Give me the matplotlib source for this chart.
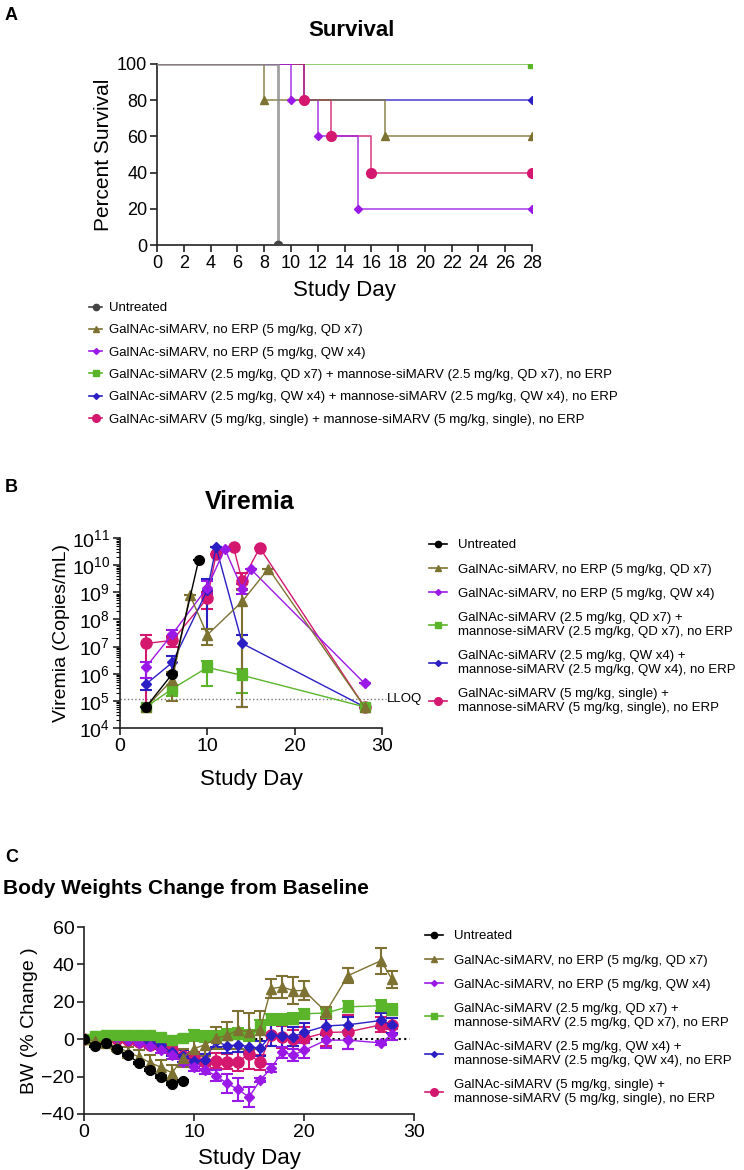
import numpy as np
import matplotlib
matplotlib.use('Agg')
from matplotlib import pyplot as plt
from matplotlib.lines import Line2D
from matplotlib.ticker import LogLocator, NullFormatter

plt.rcParams['font.family'] = ['Liberation Sans', 'DejaVu Sans']

# ---- groups ----
groups = ['Untreated',
          'GalNAc-siMARV, no ERP (5 mg/kg, QD x7)',
          'GalNAc-siMARV, no ERP (5 mg/kg, QW x4)',
          'GalNAc-siMARV (2.5 mg/kg, QD x7) + mannose-siMARV (2.5 mg/kg, QD x7), no ERP',
          'GalNAc-siMARV (2.5 mg/kg, QW x4) + mannose-siMARV (2.5 mg/kg, QW x4), no ERP',
          'GalNAc-siMARV (5 mg/kg, single) + mannose-siMARV (5 mg/kg, single), no ERP']
groups_wrapped = [g.replace('+ ', '+\n') for g in groups]
colors = ['#000000', '#7d7232', '#9b19e6', '#5bb52b', '#2b1fc4', '#d4186f']
markers = ['o', '^', 'D', 's', 'D', 'o']
msizes = [6, 6, 4.5, 6, 4.5, 7]

# ---- A: survival ----
surv_days = [[0, 9], [0, 8, 17, 28], [0, 10, 12, 15, 28], [0, 28], [0, 11, 28], [0, 11, 13, 16, 28]]
surv_pct = [[100, 0], [100, 80, 60, 60], [100, 80, 60, 20, 20], [100, 100], [100, 80, 80],
            [100, 80, 60, 40, 40]]

# ---- B: viremia (copies/mL) ----
vir_days = [[3, 6, 9], [3, 6, 8, 10, 14, 17, 28], [3, 6, 10, 12, 14, 15, 28],
            [3, 6, 10, 14, 28], [3, 6, 10, 11, 14, 28], [3, 6, 10, 11, 13, 14, 16, 28]]
vir_vals = [[6e4, 1e6, 1.5e10],
            [6e4, 6e5, 8e8, 2.7e7, 4.6e8, 7.5e9, 6e4],
            [1.8e6, 2.9e7, 1.5e9, 4e10, 1.3e9, 7e9, 4.4e5],
            [6e4, 2.8e5, 1.7e6, 8.7e5, 6e4],
            [4.2e5, 2.6e6, 1.2e9, 4.6e10, 1.3e7, 6e4],
            [1.3e7, 1.7e7, 6e8, 2.5e10, 4.5e10, 2.6e9, 4.4e10, 6e4]]
vir_lo = [[6e4, 1e6, 1.5e10],
          [6e4, 1e5, 8e8, 1.1e7, 6e4, 7.5e9, 6e4],
          [7e5, 2e7, 9e8, 4e10, 9e8, 7e9, 4.4e5],
          [6e4, 1.5e5, 3.5e5, 2e5, 6e4],
          [2.5e5, 9e5, 4.5e7, 4.6e10, 6e4, 6e4],
          [6e4, 1e7, 2.5e8, 2.5e10, 4.5e10, 1.3e9, 4.4e10, 6e4]]
vir_hi = [[6e4, 1e6, 1.5e10],
          [6e4, 1.2e6, 8e8, 4.5e7, 1.2e9, 7.5e9, 6e4],
          [2.8e6, 4e7, 2.5e9, 4e10, 2e9, 7e9, 4.4e5],
          [6e4, 4e5, 3e6, 1.5e6, 6e4],
          [7e5, 4.5e6, 3e9, 4.6e10, 2.7e7, 6e4],
          [2.6e7, 2.5e7, 1e9, 2.5e10, 4.5e10, 5e9, 4.4e10, 6e4]]
lloq = 1.2e5

# ---- C: body weight change (%) ----
bw_days_untreated = [0, 1, 2, 3, 4, 5, 6, 7, 8, 9]
bw_days = [0, 1, 2, 3, 4, 5, 6, 7, 8, 9, 10, 11, 12, 13, 14, 15, 16, 17, 18, 19, 20, 22, 24, 27, 28]
bw_mean = [
    [0, -3.6, -2.1, -5, -8.6, -12.7, -16.4, -20.4, -24.1, -22.1],
    [0, -1, -2, -4, -7, -9.5, -12.5, -15, -18, -10, -5, -3, 0.5, 2, 5, 4, 5, 27, 28, 26, 26, 14.6, 34, 42, 32],
    [0, 0.7, 0.9, 0.7, -0.5, -2, -3.6, -6, -8.4, -12, -15, -16.4, -19.6, -23.6, -26.8, -31, -22, -15.5, -7,
     -8.4, -6, -0.5, -0.5, -2, 2.7],
    [0, 1.5, 2, 2, 2.5, 2, 2, 1.3, -0.4, 0.5, 2, 1.5, 1.5, 2.5, 3, 2, 7, 10.7, 10.7, 11, 13.6, 14, 17.3,
     17.9, 15.7],
    [0, 0.5, 0.7, 0.5, -0.3, -0.9, -1.8, -3, -7.1, -9, -11.6, -11, -1, -3.6, -3, -4, -4.8, 2.1, 1.8, 1.4,
     3.6, 7.1, 7.7, 10, 7.5],
    [0, 0.5, 0.5, 0, -0.5, -1.5, -3, -3.5, -5.7, -9, -10, -12, -11.6, -12, -12, -8, -12.3, 2.1, 1.3, 0, 0.4,
     3.6, 3.9, 7.7, 7.5]]
bw_sem = [
    [0, 0.5, 0.5, 0.5, 0.5, 0.5, 0.5, 0.5, 0.5, 0.5],
    [0, 1.5, 2, 2.5, 3, 3.5, 4, 4, 4, 5, 7, 6, 6, 7, 10, 10, 10, 5, 6, 7, 5, 2.5, 4, 7, 4.5],
    [0, 0.5, 0.5, 0.5, 1, 1, 1, 1.5, 2, 2, 2, 2, 3, 5, 6, 5.5, 1, 2, 3, 3, 4, 4, 5, 1, 3],
    [0, 1, 1, 1, 1, 1.5, 1.5, 1.5, 1, 2, 3, 3, 3, 3, 3, 3, 3, 3, 3, 3, 2.5, 2, 3, 3, 3],
    [0, 0.5, 0.5, 0.5, 1, 1, 1, 2, 2, 3, 3, 3, 3, 4, 4, 4, 4, 6, 6, 5, 5, 5, 4, 4, 4],
    [0, 0.5, 0.5, 1, 1, 1, 1, 2, 2, 3, 3, 4, 4, 4, 5, 8, 4, 6, 6, 5, 6, 7, 9, 4, 4]]

W, H = 744, 1170
fig = plt.figure(figsize=(W / 100, H / 100), dpi=100)


def box(x0, y0, x1, y1):
    return [x0 / W, 1 - y1 / H, (x1 - x0) / W, (y1 - y0) / H]


def style_axes(ax, size):
    ax.spines['top'].set_visible(False)
    ax.spines['right'].set_visible(False)
    for s in ('left', 'bottom'):
        ax.spines[s].set_linewidth(1.2)
        ax.spines[s].set_color('#222222')
    ax.tick_params(direction='out', length=5, width=1.2, labelsize=size, color='#222222', pad=2)


# ===== Panel A =====
axA = fig.add_axes(box(157, 64, 532, 245))
for i in [3, 4, 5, 2, 1, 0]:
    c = '#8a8a8a' if i == 0 else colors[i]
    mc = '#444444' if i == 0 else colors[i]
    axA.step(surv_days[i], surv_pct[i], where='post', color=c, lw=2 if i == 0 else 1.2,
             alpha=0.8, zorder=2 + (i == 0))
    axA.plot(surv_days[i][1:], surv_pct[i][1:], ls='none', marker=markers[i], color=mc,
             ms=msizes[i], zorder=4)
axA.set_xlim(0, 28)
axA.set_ylim(0, 100)
axA.set_xticks(range(0, 29, 2))
axA.set_yticks(range(0, 101, 20))
style_axes(axA, 13)
axA.set_xlabel('Study Day', fontsize=16, labelpad=6)
axA.set_ylabel('Percent Survival', fontsize=15, labelpad=3)
fig.text(352 / W, 1 - 30 / H, 'Survival', ha='center', va='center', fontsize=16, fontweight='bold')
fig.text(5 / W, 1 - 15 / H, 'A', ha='left', va='center', fontsize=13, fontweight='bold')

handlesA = [Line2D([], [], color='#444444' if i == 0 else colors[i], marker=markers[i],
                   ms=msizes[i] - 1.5, lw=1.2) for i in range(6)]
fig.legend(handlesA, groups, loc='upper left', bbox_to_anchor=(89 / W, 1 - 302 / H),
           frameon=False, fontsize=9.5, handlelength=1.0, handletextpad=0.5, labelspacing=0.76,
           borderpad=0, borderaxespad=0)

# ===== Panel B =====
axB = fig.add_axes(box(120, 538, 382, 728))
for i in [5, 4, 3, 2, 1, 0]:
    v = np.array(vir_vals[i])
    err = [v - np.array(vir_lo[i]), np.array(vir_hi[i]) - v]
    axB.errorbar(vir_days[i], v, yerr=err, color=colors[i], marker=markers[i], ms=msizes[i] + 1,
                 lw=1, elinewidth=1.5, capsize=4, capthick=1.5, zorder=3)
axB.plot([0, 30.5], [lloq, lloq], ls=':', color='#777777', lw=1, clip_on=False, zorder=1)
axB.text(30.6, lloq, 'LLOQ', ha='left', va='center', fontsize=9.5)
axB.set_yscale('log')
axB.set_ylim(1e4, 1e11)
axB.set_xlim(0, 30)
axB.set_xticks([0, 10, 20, 30])
axB.yaxis.set_major_locator(LogLocator(base=10, numticks=20))
axB.yaxis.set_minor_locator(LogLocator(base=10, subs=np.arange(2, 10), numticks=20))
axB.yaxis.set_minor_formatter(NullFormatter())
style_axes(axB, 14)
axB.tick_params(which='minor', length=3, width=0.8)
axB.set_xlabel('Study Day', fontsize=16, labelpad=10)
axB.set_ylabel('Viremia (Copies/mL)', fontsize=14, labelpad=1)
fig.text(250 / W, 1 - 502 / H, 'Viremia', ha='center', va='center', fontsize=18, fontweight='bold')
fig.text(5 / W, 1 - 487 / H, 'B', ha='left', va='center', fontsize=13, fontweight='bold')

handlesBC = [Line2D([], [], color=colors[i], marker=markers[i], ms=msizes[i] - 1.5, lw=1.2)
             for i in range(6)]
fig.legend(handlesBC, groups_wrapped, loc='upper left', bbox_to_anchor=(429 / W, 1 - 539 / H),
           frameon=False, fontsize=9.5, handlelength=1.4, handletextpad=0.8, labelspacing=0.92,
           borderpad=0, borderaxespad=0)

# ===== Panel C =====
axC = fig.add_axes(box(84, 927, 414, 1114))
for i in [5, 4, 2, 3, 1, 0]:
    d = bw_days_untreated if i == 0 else bw_days
    axC.errorbar(d, bw_mean[i], yerr=bw_sem[i], color=colors[i], marker=markers[i],
                 ms=msizes[i] + 1, lw=1, elinewidth=1.5, capsize=4, capthick=1.5, zorder=3)
axC.plot([0, 29.6], [0, 0], ls=':', color='#000000', lw=1.5, clip_on=False, zorder=1)
axC.set_xlim(0, 30)
axC.set_ylim(-40, 60)
axC.set_xticks([0, 10, 20, 30])
axC.set_yticks(range(-40, 61, 20))
style_axes(axC, 14)
axC.set_xlabel('Study Day', fontsize=16, labelpad=5)
axC.set_ylabel('BW (% Change )', fontsize=14, labelpad=2)
fig.text(3 / W, 1 - 889 / H, 'Body Weights Change from Baseline', ha='left', va='center',
         fontsize=15, fontweight='bold')
fig.text(5 / W, 1 - 858 / H, 'C', ha='left', va='center', fontsize=13, fontweight='bold')
fig.legend(handlesBC, groups_wrapped, loc='upper left', bbox_to_anchor=(425 / W, 1 - 930 / H),
           frameon=False, fontsize=9.5, handlelength=1.4, handletextpad=0.8, labelspacing=0.92,
           borderpad=0, borderaxespad=0)

fig.savefig('out.png', dpi=100)
